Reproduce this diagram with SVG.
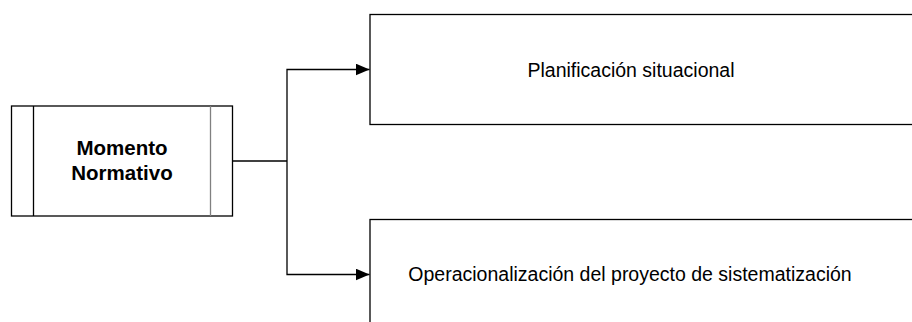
<svg xmlns="http://www.w3.org/2000/svg" width="912" height="322" viewBox="0 0 912 322">
  <style>
    .box { fill: #ffffff; stroke: #000000; stroke-width: 1.3; }
    .bar { stroke: #000000; stroke-width: 1.3; }
    .bar-grey { stroke: #808080; stroke-width: 1.3; }
    .label { font-family: "Liberation Sans", Arial, sans-serif; font-size: 19.5px; fill: #000000; text-anchor: middle; }
    .bold { font-weight: bold; font-size: 20.5px; }
    .wire { fill: none; stroke: #000000; stroke-width: 1.3; }
  </style>
  <defs>
    <marker id="arrow" markerWidth="14" markerHeight="12" refX="14" refY="6" orient="auto" markerUnits="userSpaceOnUse">
      <path d="M0,0 L14,6 L0,12 Z" fill="#000000"/>
    </marker>
  </defs>
  <rect width="912" height="322" fill="#ffffff"/>

  <g id="momento-normativo">
    <rect class="box" x="11.5" y="106" width="221" height="110"/>
    <line class="bar" x1="33.5" y1="106" x2="33.5" y2="216"/>
    <line class="bar-grey" x1="210.5" y1="106" x2="210.5" y2="216"/>
    <text class="label bold" x="122" y="155">Momento</text>
    <text class="label bold" x="122" y="180">Normativo</text>
  </g>

  <g id="planificacion-situacional">
    <rect class="box" x="370" y="14.5" width="560" height="110"/>
    <text class="label" x="631" y="77">Planificación situacional</text>
  </g>

  <g id="operacionalizacion">
    <rect class="box" x="370" y="219.5" width="560" height="120"/>
    <text class="label" x="630" y="281">Operacionalización del proyecto de sistematización</text>
  </g>

  <g id="connectors">
    <path class="wire" d="M232,161 H287"/>
    <path class="wire" d="M287,161 V69.5 H369.5" marker-end="url(#arrow)"/>
    <path class="wire" d="M287,161 V274.5 H369.5" marker-end="url(#arrow)"/>
  </g>
</svg>
